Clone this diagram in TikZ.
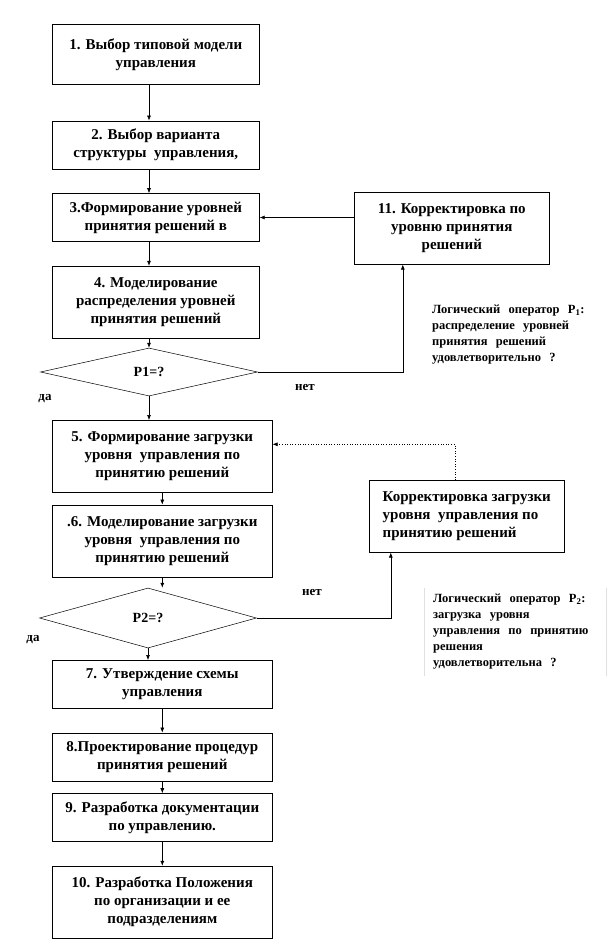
\documentclass[tikz,border=0pt]{standalone}
\usepackage{fontspec}
\setmainfont{Liberation Serif}
\usetikzlibrary{shapes.geometric, arrows.meta, positioning}

\begin{document}
\begin{tikzpicture}[
        x=1pt, y=-1pt,
        box/.style={draw, line width=0.6pt, align=center, minimum width=207pt, inner sep=1pt, font=\bfseries\fontsize{15}{18}\selectfont},
        widebox/.style={box, minimum width=220pt},
        cond/.style={draw, diamond, line width=0.5pt, inner sep=0pt, font=\bfseries\fontsize{14}{16}\selectfont},
        note/.style={anchor=north west, align=left, text width=164pt, inner xsep=9pt, inner ysep=6pt, font=\bfseries\fontsize{12.5}{16}\selectfont},
        answer/.style={font=\bfseries\fontsize{13}{15}\selectfont},
        frame/.style={black!12, line width=0.5pt},
        arrow/.style={-{Latex[length=5pt, width=4pt]}, line width=0.6pt}
        ]
        \useasboundingbox (0,0) rectangle (615,948);

        \node[box, minimum height=60pt, anchor=north west] (b1) at (52,24) {1. Выбор типовой модели\\управления};
        \node[box, minimum height=48pt, below=36pt of b1.south west, anchor=north west] (b2) {2. Выбор варианта\\структуры\ \ управления,};
        \node[box, minimum height=48pt, below=24pt of b2.south west, anchor=north west] (b3) {3.Формирование уровней\\принятия решений в};
        \node[box, minimum height=72pt, below=24pt of b3.south west, anchor=north west] (b4) {4. Моделирование\\распределения уровней\\принятия решений};
        \node[cond, minimum width=217pt, minimum height=48pt] (p1) at (149,372) {P1=?};

        \node[widebox, minimum height=72pt, anchor=north west] (b5) at (52,420) {5. Формирование загрузки\\уровня\ \ управления по\\принятию решений};
        \node[widebox, minimum height=72pt, below=12pt of b5.south west, anchor=north west] (b6) {.6. Моделирование загрузки\\уровня\ \ управления по\\принятию решений};
        \node[cond, minimum width=217pt, minimum height=60pt] (p2) at (148,618) {P2=?};

        \node[widebox, minimum height=48pt, anchor=north west] (b7) at (52,660) {7. Утверждение схемы\\управления};
        \node[widebox, minimum height=48pt, below=24pt of b7.south west, anchor=north west] (b8) {8.Проектирование процедур\\принятия решений};
        \node[widebox, minimum height=48pt, below=12pt of b8.south west, anchor=north west] (b9) {9. Разработка документации\\по управлению.};
        \node[widebox, minimum height=72pt, below=24pt of b9.south west, anchor=north west] (b10) {10. Разработка Положения\\по организации и ее\\подразделениям};

        \node[box, minimum width=195pt, minimum height=72pt, anchor=north west] (b11) at (354,192) {11. Корректировка по\\уровню принятия\\решений};
        \node[box, minimum width=195pt, minimum height=72pt, anchor=north west, align=left] (fix) at (369,480) {Корректировка загрузки\\уровня\ \ управления по\\принятию решений};

        \node[note] (n1) at (423,299) {Логический\ \ оператор\ \ P\textsubscript{1}:\\распределение\ \ уровней\\принятия\ \ решений\\удовлетворительно\ \ ?};
        \node[note] (n2) at (424,588) {Логический\ \ оператор\ \ P\textsubscript{2}:\\загрузка\ \ уровня\\управления\ \ по\ \ принятию\\решения\\удовлетворительна\ \ ?};
        \draw[frame] (n2.north west) -- (n2.south west);
        \draw[frame] (n2.north east) -- (n2.south east);

        \node[answer] (no1) at (305,387) {нет};
        \node[answer] (yes1) at (45,399) {да};
        \node[answer] (no2) at (312,592) {нет};
        \node[answer] (yes2) at (33,640) {да};

        \draw[arrow] (b1.south -| p1) -- (b2.north -| p1);
        \draw[arrow] (b2.south -| p1) -- (b3.north -| p1);
        \draw[arrow] (b3.south -| p1) -- (b4.north -| p1);
        \draw[arrow] (b4.south -| p1) -- (p1.north);
        \draw[arrow] (p1.south) -- (b5.north -| p1);
        \draw[arrow] (b5.south) -- (b6.north);
        \draw[arrow] (b6.south) -- (b6.south |- p2.north);
        \draw[arrow] (p2.south) -- (b7.north -| p2);
        \draw[arrow] (b7.south) -- (b8.north);
        \draw[arrow] (b8.south) -- (b9.north);
        \draw[arrow] (b9.south) -- (b10.north);

        \draw[arrow] (b11.west |- b3.east) -- (b3.east);
        \draw[arrow] (p1.east) -| ([xshift=-49pt]b11.south);
        \draw[arrow, dotted] ([xshift=-12pt]fix.north) |- ([yshift=12pt]b5.east);
        \draw[arrow] (p2.east) -| ([xshift=-76pt]fix.south);
    \end{tikzpicture}
\end{document}
